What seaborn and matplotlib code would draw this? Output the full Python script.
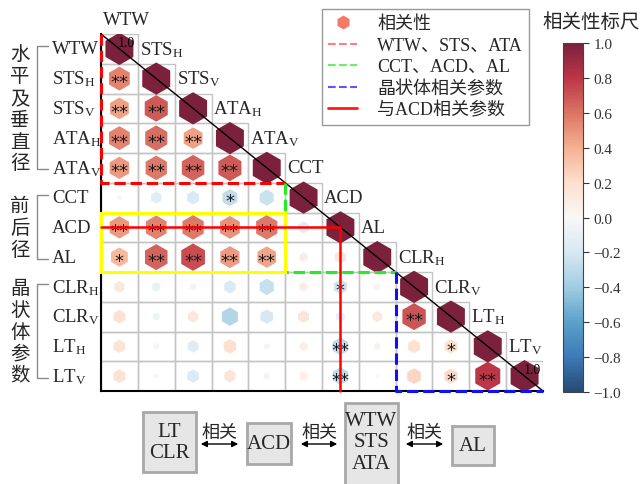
import numpy as np
import pandas as pd
import matplotlib
matplotlib.use("Agg")
import matplotlib.pyplot as plt
import matplotlib.transforms as mtransforms
from matplotlib.colors import ListedColormap, Normalize
from matplotlib.cm import ScalarMappable
from matplotlib.lines import Line2D
from matplotlib.patches import Rectangle, FancyArrowPatch
import seaborn as sns

# ---------------------------------------------------------------- data
variables = ["WTW", "STS_H", "STS_V", "ATA_H", "ATA_V", "CCT", "ACD", "AL",
             "CLR_H", "CLR_V", "LT_H", "LT_V"]

# lower triangle of the correlation matrix, row i holds columns 0..i-1
corr_rows = [
    [],
    [0.55],
    [0.45, 0.68],
    [0.55, 0.62, 0.45],
    [0.48, 0.58, 0.65, 0.68],
    [-0.03, -0.14, -0.18, -0.28, -0.25],
    [0.48, 0.55, 0.58, 0.50, 0.58, -0.14],
    [0.36, 0.65, 0.72, 0.47, 0.44, 0.09, 0.16],
    [0.13, -0.09, -0.05, -0.17, -0.26, 0.09, -0.22, 0.05],
    [0.18, -0.06, 0.14, -0.33, -0.20, 0.15, -0.10, 0.12, 0.70],
    [0.17, 0.04, -0.15, 0.20, -0.04, 0.08, -0.30, 0.05, 0.18, 0.20],
    [0.18, -0.03, -0.17, 0.16, -0.05, 0.08, -0.30, 0.01, 0.24, 0.22, 0.80],
]

# significance marks for the same cells
sig_rows = [
    [],
    ["**"],
    ["**", "**"],
    ["**", "**", "**"],
    ["**", "**", "**", "**"],
    ["", "", "", "*", ""],
    ["**", "**", "**", "**", "**", ""],
    ["*", "**", "**", "**", "**", "", ""],
    ["", "", "", "", "", "", "*", ""],
    ["", "", "", "", "", "", "", "", "**"],
    ["", "", "", "", "", "", "**", "", "", "*"],
    ["", "", "", "", "", "", "**", "", "", "*", "**"],
]

groups = [("水平及垂直径", 0, 4), ("前后径", 5, 7), ("晶状体参数", 8, 11)]

legend_labels = ["相关性", "WTW、STS、ATA", "CCT、ACD、AL", "晶状体相关参数", "与ACD相关参数"]
cbar_title = "相关性标尺"
cbar_ticks = [-1.0, -0.8, -0.6, -0.4, -0.2, 0.0, 0.2, 0.4, 0.6, 0.8, 1.0]

flow_boxes = ["LT\nCLR", "ACD", "WTW\nSTS\nATA", "AL"]
flow_link = "相关"

# ---------------------------------------------------------------- style
sns.set_style("white")
plt.rcParams["font.family"] = ["Liberation Serif", "Noto Sans CJK SC", "DejaVu Sans"]
plt.rcParams["mathtext.fontset"] = "custom"
plt.rcParams["mathtext.rm"] = "Liberation Serif"
plt.rcParams["mathtext.it"] = "Liberation Serif:italic"
plt.rcParams["axes.unicode_minus"] = True

SERIF = ["Liberation Serif", "Noto Sans CJK SC"]


def pretty(name):
    if "_" in name:
        base, sub = name.split("_")
        return base + r"$_{\mathrm{" + sub + "}}$"
    return name


labels = [pretty(v) for v in variables]
n = len(variables)

# semi-transparent look of RdBu_r, baked into an opaque colormap
base = plt.get_cmap("RdBu_r")(np.linspace(0, 1, 256))
base[:, :3] = base[:, :3] * 0.87 + 0.13
cmap = ListedColormap(base)

records = []
for i in range(n):
    for j in range(i + 1):
        r = 1.0 if i == j else corr_rows[i][j]
        s = "" if i == j else sig_rows[i][j]
        records.append({"x": j + 0.5, "y": i + 0.5, "r": r, "absr": abs(r), "sig": s})
df = pd.DataFrame(records)

W, H = 641, 485
fig = plt.figure(figsize=(W / 100, H / 100), dpi=100)


def fx(px):
    return px / W


def fy(py):
    return 1 - py / H


ax = fig.add_axes([fx(101), fy(392), (543 - 101) / W, (392 - 35) / H])
ax.set_xlim(0, n)
ax.set_ylim(n, 0)

# cell borders of the lower triangle
for i in range(n):
    for j in range(i + 1):
        ax.add_patch(Rectangle((j, i), 1, 1, fill=False, edgecolor="#c4c4c4",
                               lw=1.0, zorder=1))

sns.scatterplot(data=df, x="x", y="y", hue="r", palette=cmap, hue_norm=(-1, 1),
                size="absr", sizes=(0, 540), size_norm=(0, 1), marker="h",
                linewidth=0, legend=False, ax=ax, zorder=3)

ax.plot([0, n], [0, n], color="black", lw=1.0, zorder=4)

for _, row in df.iterrows():
    if row["sig"]:
        ax.text(row["x"], row["y"] + 0.12, row["sig"], ha="center", va="center",
                fontsize=13, family="DejaVu Sans", color="#1a1a1a", zorder=5)

ax.text(0.5 + 0.2, 0.5 - 0.22, "1.0", ha="center", va="center", fontsize=10,
        family=SERIF, color="black", zorder=5)
ax.text(n - 0.5 + 0.2, n - 0.5 - 0.22, "1.0", ha="center", va="center", fontsize=10,
        family=SERIF, color="black", zorder=5)

ax.set_xticks([])
ax.set_yticks([])
ax.set_xlabel("")
ax.set_ylabel("")
for side in ("top", "right"):
    ax.spines[side].set_visible(False)
for side in ("left", "bottom"):
    ax.spines[side].set_color("black")
    ax.spines[side].set_linewidth(1.5)

# column names along the diagonal
for j, lab in enumerate(labels):
    ax.text(j + 0.05, j - 0.5, lab, ha="left", va="center", fontsize=13.5,
            family=SERIF, clip_on=False)

# row names on the left
trans = mtransforms.blended_transform_factory(fig.transFigure, ax.transData)
for i, lab in enumerate(labels):
    ax.text(fx(52), i + 0.5, lab, transform=trans, ha="left", va="center",
            fontsize=13.5, family=SERIF, clip_on=False)

# group brackets and vertical group titles
for title, r0, r1 in groups:
    ax.plot([fx(48), fx(37), fx(37), fx(48)], [r0 + 0.4, r0 + 0.4, r1 + 0.55, r1 + 0.55],
            transform=trans, color="#8a8a8a", lw=1.0, clip_on=False)
    ax.text(fx(20), (r0 + r1 + 1) / 2, "\n".join(title), transform=trans,
            ha="center", va="center", fontsize=14, linespacing=1.05,
            family="Noto Sans CJK SC", clip_on=False)

# highlighted blocks
ax.plot([0, 0, 5], [0, 5, 5], color="red", ls="--", lw=2.2, zorder=6, clip_on=False)
ax.plot([5, 5, 8], [5, 8, 8], color="#22ee22", ls="--", lw=2.2, zorder=6, clip_on=False)
ax.plot([8, 8, 12], [8, 12, 12], color="#1010ff", ls="--", lw=2.2, zorder=6, clip_on=False)
ax.add_patch(Rectangle((0, 6), 5, 2, fill=False, edgecolor="#ffff00", lw=2.2, zorder=6,
                       clip_on=False))
acd = variables.index("ACD")
ax.plot([0, acd + 0.5, acd + 0.5], [acd + 0.5, acd + 0.5, n], color="red", lw=1.8,
        zorder=6, clip_on=False)

# legend
handles = [
    Line2D([], [], marker="h", color="none", markerfacecolor="#f47a68",
           markeredgecolor="none", markersize=10),
    Line2D([], [], color="red", ls="--", lw=1.5, alpha=0.5),
    Line2D([], [], color="#22ee22", ls="--", lw=1.5, alpha=0.7),
    Line2D([], [], color="#1010ff", ls="--", lw=1.5, alpha=0.7),
    Line2D([], [], color="red", lw=2.0, alpha=0.9),
]
fig.legend(handles=handles, labels=legend_labels, loc="upper left",
           bbox_to_anchor=(fx(322), fy(10)), bbox_transform=fig.transFigure,
           prop={"family": SERIF, "size": 13}, frameon=True, fancybox=False,
           edgecolor="#999999", framealpha=1, handlelength=1.6, handletextpad=1.1,
           labelspacing=0.25, borderpad=0.35, borderaxespad=0)

# colour bar
cax = fig.add_axes([fx(563), fy(393), 20 / W, (393 - 44) / H])
sm = ScalarMappable(norm=Normalize(-1, 1), cmap=cmap)
cb = fig.colorbar(sm, cax=cax, ticks=cbar_ticks)
cb.ax.set_yticklabels([f"{t:.1f}".replace("-", "\u2212") for t in cbar_ticks],
                      family=SERIF)
cb.ax.tick_params(labelsize=11, length=4, width=0.8, colors="#333333")
cb.outline.set_edgecolor("#444444")
cb.outline.set_linewidth(0.8)
fig.text(fx(591), fy(22), cbar_title, ha="center", va="center", fontsize=14,
         family="Noto Sans CJK SC")

# relationship diagram underneath
box_geom = [(143, 413, 196, 473), (247, 424, 291, 465), (345, 404, 398, 492),
            (452, 427, 494, 466)]
for (x0, y0, x1, y1), txt in zip(box_geom, flow_boxes):
    fig.add_artist(Rectangle((fx(x0), fy(y1)), (x1 - x0) / W, (y1 - y0) / H,
                             transform=fig.transFigure, facecolor="#e6e6e6",
                             edgecolor="#a8a8a8", lw=2))
    cy = (y0 + y1) / 2 if y1 < H else 443
    fig.text(fx((x0 + x1) / 2), fy(cy), txt, ha="center", va="center",
             fontsize=15, linespacing=1.15, family=SERIF)

for xa, xb in [(198, 241), (298, 340), (403, 446)]:
    fig.add_artist(FancyArrowPatch((fx(xa), fy(445)), (fx(xb), fy(445)),
                                   transform=fig.transFigure, arrowstyle="<|-|>",
                                   mutation_scale=9, color="black", lw=1.0))
    fig.text(fx((xa + xb) / 2), fy(433), flow_link, ha="center", va="center",
             fontsize=13, family="Noto Sans CJK SC")

fig.savefig("out.png", dpi=100)
